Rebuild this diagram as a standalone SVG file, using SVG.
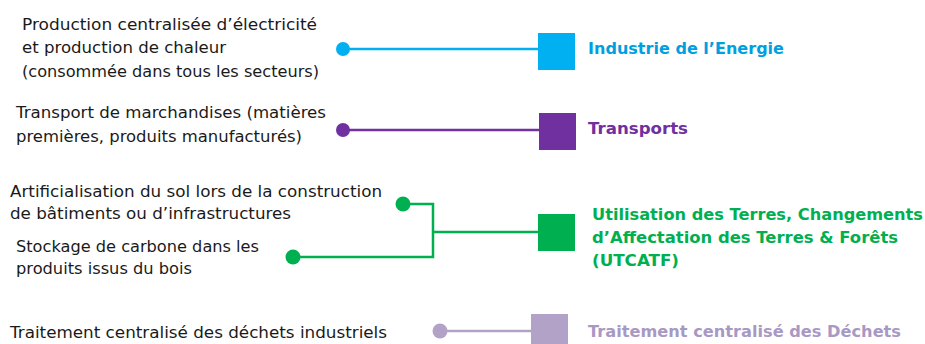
<svg xmlns="http://www.w3.org/2000/svg" width="925" height="344" viewBox="0 0 925 344">
<style>
.t{font-family:"DejaVu Sans","Liberation Sans",sans-serif;font-size:16px;fill:#1a1a1a}
.h{font-family:"DejaVu Sans","Liberation Sans",sans-serif;font-size:16px;font-weight:bold}
.c{fill:none;stroke-width:2.5}
</style>
<rect width="925" height="344" fill="#fff"/>
<g id="connectors">
<path class="c" stroke="#00B0F0" d="M343,49H538"/>
<path class="c" stroke="#7030A0" d="M343,130H539"/>
<path class="c" stroke="#00B050" d="M403,204H433V257H293M433,232H538"/>
<path class="c" stroke="#B3A2C7" d="M440,331H531"/>
<circle cx="343" cy="49" r="7" fill="#00B0F0"/>
<circle cx="343" cy="130" r="7" fill="#7030A0"/>
<circle cx="403" cy="204" r="7.5" fill="#00B050"/>
<circle cx="293" cy="257" r="7.5" fill="#00B050"/>
<circle cx="440" cy="331" r="7.5" fill="#B3A2C7"/>
</g>
<g id="src1"><text class="t" x="22" y="30" textLength="295" lengthAdjust="spacingAndGlyphs">Production centralisée d’électricité</text><text class="t" x="22" y="53" textLength="204" lengthAdjust="spacingAndGlyphs">et production de chaleur</text><text class="t" x="22" y="77" textLength="297" lengthAdjust="spacingAndGlyphs">(consommée dans tous les secteurs)</text></g>
<g id="src2"><text class="t" x="16" y="118" textLength="310" lengthAdjust="spacingAndGlyphs">Transport de marchandises (matières</text><text class="t" x="16" y="142" textLength="286" lengthAdjust="spacingAndGlyphs">premières, produits manufacturés)</text></g>
<g id="src3"><text class="t" x="10" y="197" textLength="372" lengthAdjust="spacingAndGlyphs">Artificialisation du sol lors de la construction</text><text class="t" x="10" y="219" textLength="281" lengthAdjust="spacingAndGlyphs">de bâtiments ou d’infrastructures</text></g>
<g id="src4"><text class="t" x="16" y="252" textLength="243" lengthAdjust="spacingAndGlyphs">Stockage de carbone dans les</text><text class="t" x="16" y="274" textLength="176" lengthAdjust="spacingAndGlyphs">produits issus du bois</text></g>
<g id="src5"><text class="t" x="10" y="338" textLength="377" lengthAdjust="spacingAndGlyphs">Traitement centralisé des déchets industriels</text></g>
<g id="energie"><rect x="538" y="33" width="37" height="37" fill="#00B0F0"/><text class="h" x="588" y="54" fill="#00A0E0" textLength="196" lengthAdjust="spacingAndGlyphs">Industrie de l’Energie</text></g>
<g id="transports"><rect x="539" y="113" width="37" height="37" fill="#7030A0"/><text class="h" x="588" y="134" fill="#7030A0" textLength="100" lengthAdjust="spacingAndGlyphs">Transports</text></g>
<g id="utcatf"><rect x="538" y="214" width="37" height="37" fill="#00B050"/><text class="h" x="592" y="220" fill="#00B050" textLength="331" lengthAdjust="spacingAndGlyphs">Utilisation des Terres, Changements</text><text class="h" x="592" y="243" fill="#00B050" textLength="306" lengthAdjust="spacingAndGlyphs">d’Affectation des Terres &amp; Forêts</text><text class="h" x="592" y="266" fill="#00B050" textLength="87" lengthAdjust="spacingAndGlyphs">(UTCATF)</text></g>
<g id="dechets"><rect x="531" y="314" width="37" height="37" fill="#B3A2C7"/><text class="h" x="588" y="337" fill="#A898C4" textLength="313" lengthAdjust="spacingAndGlyphs">Traitement centralisé des Déchets</text></g>
</svg>
